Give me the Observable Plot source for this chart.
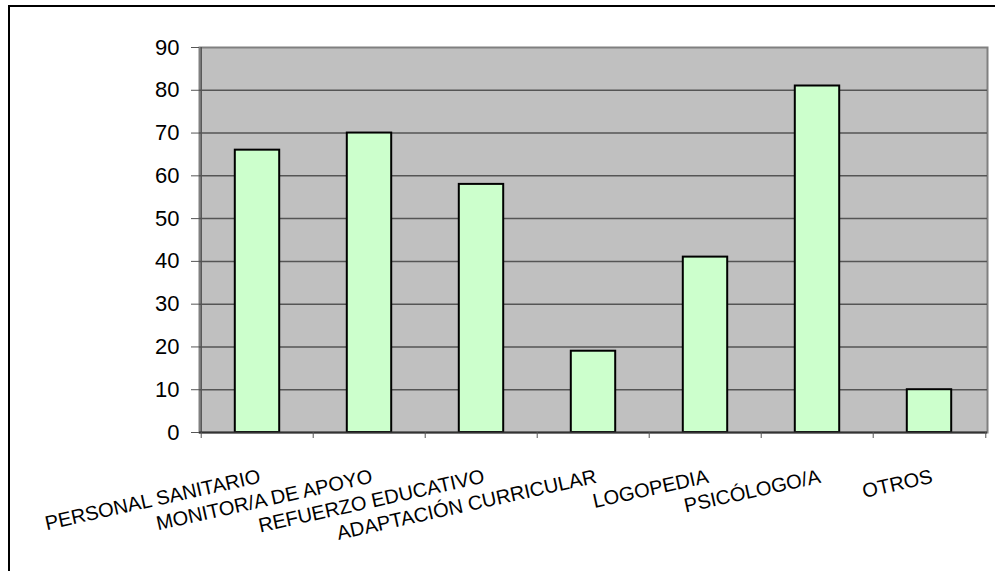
<!DOCTYPE html>
<html>
<head>
<meta charset="utf-8">
<script src="https://cdn.jsdelivr.net/npm/d3@7"></script>
<script src="https://cdn.jsdelivr.net/npm/@observablehq/plot@0.6"></script>
<style>
  html, body { margin: 0; padding: 0; background: #fff; }
  #chart { position: relative; width: 995px; height: 571px; overflow: hidden; }
  #border { position: absolute; left: 8px; top: 5px; width: 1000px; height: 580px; border: 2px solid #000; box-sizing: border-box; pointer-events: none; }
</style>
</head>
<body>
<div id="chart"><div id="border"></div></div>
<script>
const categories = ["PERSONAL SANITARIO", "MONITOR/A DE APOYO", "REFUERZO EDUCATIVO", "ADAPTACIÓN CURRICULAR", "LOGOPEDIA", "PSICÓLOGO/A", "OTROS"];
const values = [66, 70, 58, 19, 41, 81, 10];
const yTicks = [0, 10, 20, 30, 40, 50, 60, 70, 80, 90];

const data = categories.map((c, i) => ({category: c, value: values[i]}));
const W = 995, H = 571, ML = 199, MR = 8, MT = 47, MB = 139;
const step = (W - ML - MR) / categories.length;

const chart = Plot.plot({
  width: W,
  height: H,
  marginLeft: ML,
  marginRight: MR,
  marginTop: MT,
  marginBottom: MB,
  style: {fontFamily: "Liberation Sans, Arial, sans-serif", background: "transparent", overflow: "visible"},
  x: {domain: categories, padding: 0, axis: null, label: null},
  y: {domain: [0, 90], axis: null, label: null},
  marks: [
    Plot.frame({fill: "#c0c0c0", stroke: "#808080", strokeWidth: 2}),
    Plot.ruleY(yTicks.filter(t => t > 0 && t < 90), {stroke: "#555", strokeWidth: 1.5}),
    Plot.barY(data, {x: "category", y: "value", fill: "#ccffcc", stroke: "#000", strokeWidth: 2, insetLeft: 33.8, insetRight: 33.8}),
    Plot.ruleX([0], {x: () => categories[0], dx: -step / 2, stroke: "#555", strokeWidth: 1.5}),
    Plot.ruleY([0], {stroke: "#333", strokeWidth: 2}),
    Plot.axisY({ticks: yTicks, tickSize: 8, tickPadding: 12, fontSize: 22, stroke: "#555", color: "#000", label: null, tickFormat: d => String(d)}),
    Plot.axisX({ticks: categories, tickSize: 6, text: null, label: null, dx: -step / 2, stroke: "#555"}),
    Plot.axisX({ticks: [categories[categories.length - 1]], tickSize: 6, text: null, label: null, dx: step / 2, stroke: "#555"}),
    Plot.text(categories, {x: d => d, y: 0, dy: 50, dx: 4, rotate: -12.5, textAnchor: "end", lineAnchor: "bottom", fontSize: 20, fill: "#000"})
  ]
});
document.getElementById("chart").prepend(chart);
chart.style.position = "absolute";
chart.style.left = "0";
chart.style.top = "0";
</script>
</body>
</html>
